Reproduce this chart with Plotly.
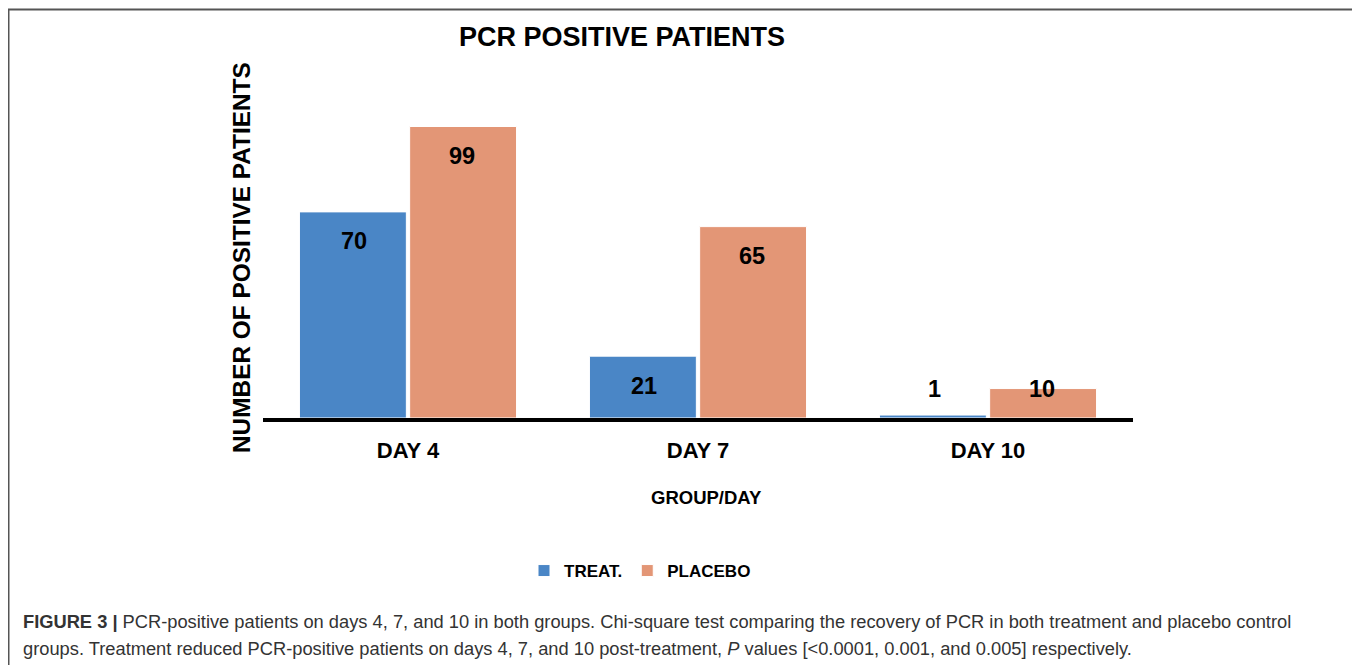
import plotly.graph_objects as go

days = ["DAY 4", "DAY 7", "DAY 10"]
treat = [70, 21, 1]
placebo = [99, 65, 10]
series_names = ["TREAT.", "PLACEBO"]
colors = ["#4A86C6", "#E39676"]

title_text = "PCR POSITIVE PATIENTS"
y_title = "NUMBER OF POSITIVE PATIENTS"
x_title = "GROUP/DAY"
caption1 = ("<b>FIGURE 3 |</b> PCR-positive patients on days 4, 7, and 10 in both groups. "
            "Chi-square test comparing the recovery of PCR in both treatment and placebo control")
caption2 = ("groups. Treatment reduced PCR-positive patients on days 4, 7, and 10 post-treatment, "
            "<i>P</i> values [&lt;0.0001, 0.001, and 0.005] respectively.")

FONT = "Liberation Sans, Arial, sans-serif"
OFF = 8  # page body margin
W, H = 1360 - OFF, 665 - OFF
# plot area in window pixels
PL, PR, PT, PB = 263, 1133, 100, 418
L, T = PL - OFF, PT - OFF
R = W - (PR - OFF)
B = H - (PB - OFF)
PW = PR - PL
PH = PB - PT
YMAX = 108


def px_x(p):
    return (p - PL) / PW


def px_y(p):
    return (PB - p) / PH


fig = go.Figure()
for name, vals, col in zip(series_names, [treat, placebo], colors):
    fig.add_trace(go.Bar(
        x=days, y=vals, name=f"<b>{name}</b>",
        marker=dict(color=col, line=dict(color="white", width=1)),
        hoverinfo="x+y",
    ))

group_half = 54
annotations = []
for i, vals in enumerate([treat, placebo]):
    shift = -group_half if i == 0 else group_half
    for d, v in zip(days, vals):
        annotations.append(dict(
            x=d, y=max(v - 10, 10), xref="x", yref="y", xshift=shift,
            text=f"<b>{v}</b>", showarrow=False,
            font=dict(family=FONT, size=23.5, color="black"),
            yanchor="middle", xanchor="center",
        ))

annotations += [
    dict(x=px_x(241), y=px_y(258), xref="paper", yref="paper", text=f"<b>{y_title}</b>",
         textangle=-90, showarrow=False, font=dict(family=FONT, size=24.4, color="black"),
         xanchor="center", yanchor="middle"),
    dict(x=px_x(706), y=px_y(497), xref="paper", yref="paper", text=f"<b>{x_title}</b>",
         showarrow=False, font=dict(family=FONT, size=18.5, color="black"),
         xanchor="center", yanchor="middle"),
    dict(x=px_x(21), y=px_y(621), xref="paper", yref="paper", text=caption1,
         showarrow=False, font=dict(family=FONT, size=18.3, color="#333333"),
         xanchor="left", yanchor="middle", align="left"),
    dict(x=px_x(21), y=px_y(648), xref="paper", yref="paper", text=caption2,
         showarrow=False, font=dict(family=FONT, size=18.3, color="#333333"),
         xanchor="left", yanchor="middle", align="left"),
]

fig.update_layout(
    width=W, height=H,
    margin=dict(l=L, r=R, t=T, b=B, autoexpand=False),
    paper_bgcolor="white", plot_bgcolor="white",
    barmode="group", bargap=0.24, bargroupgap=0.03,
    title=dict(text=f"<b>{title_text}</b>", x=(622 - OFF) / W, y=1 - (37 - OFF) / H,
               xref="container", yref="container", xanchor="center", yanchor="middle",
               font=dict(family=FONT, size=27, color="black")),
    xaxis=dict(showline=True, linecolor="black", linewidth=4, ticks="outside",
               ticklen=10, tickcolor="rgba(0,0,0,0)", showgrid=False, zeroline=False,
               tickfont=dict(family=FONT, size=22, color="black"),
               tickprefix="<b>", ticksuffix="</b>"),
    yaxis=dict(range=[0, YMAX], showticklabels=False, showgrid=False, zeroline=False,
               showline=False, ticks=""),
    legend=dict(orientation="h", x=px_x(640), y=px_y(571), xanchor="center", yanchor="middle",
                font=dict(family=FONT, size=17, color="black"), itemwidth=30,
                traceorder="normal"),
    annotations=annotations,
    shapes=[dict(type="rect", xref="paper", yref="paper",
                 x0=px_x(8.5), x1=px_x(1355), y0=px_y(700), y1=px_y(9.5),
                 line=dict(color="#555555", width=2), fillcolor="rgba(0,0,0,0)", layer="below")],
)

fig.write_html("out.html")
